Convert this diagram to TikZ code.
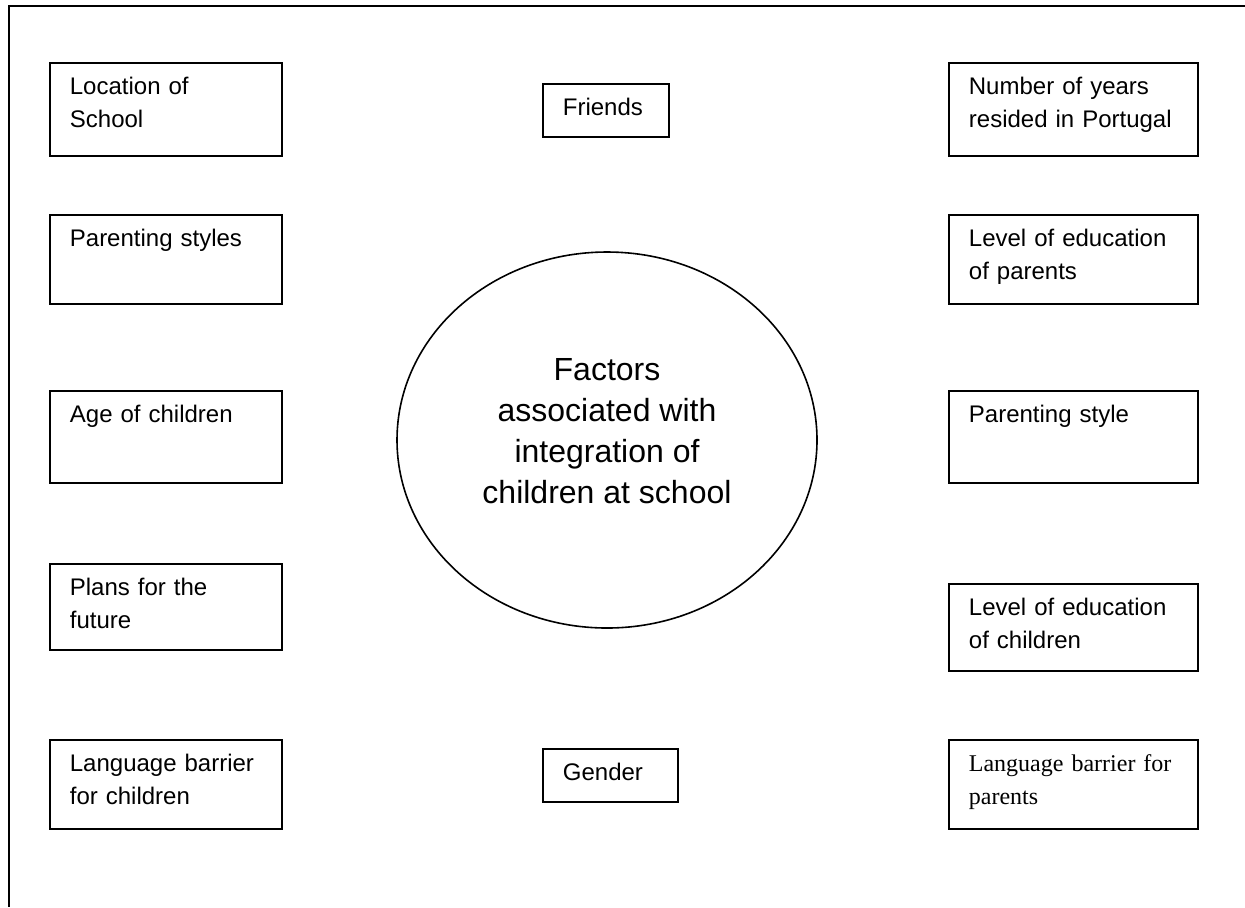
\documentclass[tikz,border=0pt]{standalone}
\usepackage{fontspec}
\setmainfont{Liberation Sans}
\newfontfamily\timesfont{Liberation Serif}
\usetikzlibrary{shapes.geometric}
\tikzset{
  factorbox/.style={draw, line width=0.9pt, anchor=north west, inner xsep=10pt, inner ysep=0pt,
    text height=16pt, align=left, font=\fontsize{12}{16.5}\selectfont},
  leftbox/.style={factorbox, text width=96pt},
  rightbox/.style={factorbox, text width=104.5pt},
  hub/.style={draw, ellipse, line width=0.8pt, minimum width=210pt, minimum height=188pt, inner sep=0pt},
  hubtext/.style={align=center, font=\fontsize{16}{20.5}\selectfont},
}
\begin{document}
\begin{tikzpicture}[x=0.5pt,y=-0.5pt]
	\useasboundingbox (0,0) rectangle (1245,907);
	\draw[line width=1pt] (1245,6) -- (9,6) -- (9,907);
	\node[leftbox, text depth=30.5pt] (location) at (49,62) {Location of\\School};
	\node[leftbox, text depth=28.5pt] (styles) at (49,214) {Parenting styles};
	\node[leftbox, text depth=30pt] (age) at (49,390) {Age of children};
	\node[leftbox, text depth=27pt] (plans) at (49,563) {Plans for the\\future};
	\node[leftbox, text depth=28.5pt] (langchildren) at (49,739) {Language barrier\\for children};
	\node[factorbox, text width=43pt, text depth=10.5pt] (friends) at (542,83) {Friends};
	\node[factorbox, text width=47.5pt, text depth=10.5pt] (gender) at (542,748) {Gender};
	\node[rightbox, text depth=30.5pt] (years) at (948,62) {Number of years\\resided in Portugal};
	\node[rightbox, text depth=28.5pt] (eduparents) at (948,214) {Level of education\\of parents};
	\node[rightbox, text depth=30pt] (style) at (948,390) {Parenting style};
	\node[rightbox, text depth=27.5pt] (educhildren) at (948,583) {Level of education\\of children};
	\node[rightbox, text depth=28.5pt, font=\timesfont\fontsize{12}{16.5}\selectfont] (langparents) at (948,739) {Language barrier for\\parents};
	\node[hub] (factors) at (607,440) {};
	\node[hubtext] (factorstext) at ([yshift=4.5pt]factors.center) {Factors\\associated with\\integration of\\children at school};
\end{tikzpicture}
\end{document}
